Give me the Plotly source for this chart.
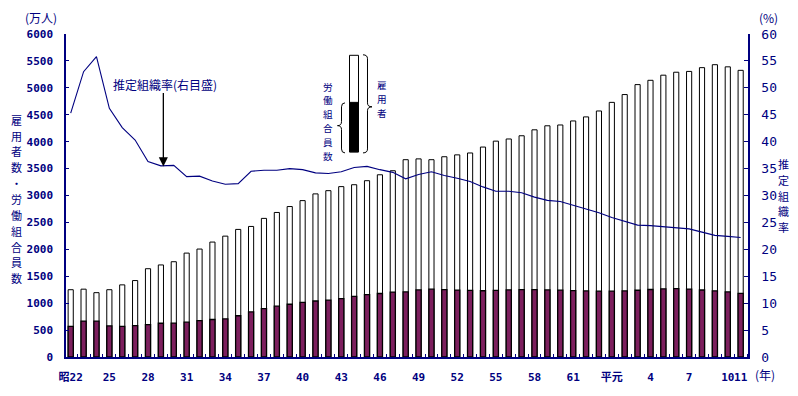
import plotly.graph_objects as go

# ---- data ----
years_index = list(range(53))  # 昭和22年(1947) ... 平成11年(1999)
employees = [1250, 1260, 1195, 1250, 1340, 1420, 1640, 1710, 1770, 1930,
             2005, 2135, 2245, 2370, 2425, 2575, 2685, 2795, 2905, 3030,
             3090, 3165, 3200, 3275, 3385, 3460, 3665, 3680, 3665, 3720,
             3755, 3790, 3900, 4010, 4050, 4110, 4220, 4295, 4310, 4385,
             4460, 4570, 4730, 4875, 5060, 5140, 5235, 5290, 5305, 5375,
             5430, 5390, 5325]
union_members = [569, 668, 666, 577, 569, 584, 603, 627, 629, 646,
                 676, 697, 708, 766, 837, 897, 944, 980, 1015, 1040,
                 1057, 1086, 1125, 1160, 1180, 1206, 1210, 1246, 1259, 1251,
                 1244, 1238, 1231, 1237, 1247, 1253, 1252, 1246, 1242, 1234,
                 1227, 1223, 1223, 1227, 1240, 1254, 1266, 1270, 1261, 1245,
                 1229, 1209, 1183]
density = [45.3, 53.0, 55.8, 46.2, 42.6, 40.3, 36.3, 35.5, 35.6, 33.5,
           33.6, 32.7, 32.1, 32.2, 34.5, 34.7, 34.7, 35.0, 34.8, 34.2,
           34.1, 34.4, 35.2, 35.4, 34.8, 34.3, 33.1, 33.9, 34.4, 33.7,
           33.2, 32.6, 31.6, 30.8, 30.8, 30.5, 29.7, 29.1, 28.9, 28.2,
           27.6, 26.8, 25.9, 25.2, 24.5, 24.4, 24.2, 24.1, 23.8, 23.2,
           22.6, 22.4, 22.2]
tick_positions = [0, 3, 6, 9, 12, 15, 18, 21, 24, 27, 30, 33, 36, 39, 42, 45, 48, 51, 52]
tick_labels = ["昭22", "25", "28", "31", "34", "37", "40", "43", "46", "49",
               "52", "55", "58", "61", "平元", "4", "7", "10", "11"]

NAVY = "#000080"
PURPLE = "#7d1f5e"
JP = "Noto Sans CJK JP"
MONO = "DejaVu Sans Mono, Noto Sans CJK JP"

W, H = 798, 396
L, R, T, B = 66, 50, 34, 36
PW, PH = W - L - R, H - T - B


def px(x):
    return (x - L) / PW


def py(y):
    return (H - B - y) / PH


fig = go.Figure()
fig.add_trace(go.Bar(x=years_index, y=employees, width=0.4,
                     marker=dict(color="white", line=dict(color="black", width=1)),
                     name="雇用者数"))
fig.add_trace(go.Bar(x=years_index, y=union_members, width=0.4,
                     marker=dict(color=PURPLE, line=dict(color="black", width=1.3)),
                     name="労働組合員数"))
fig.add_trace(go.Scatter(x=years_index, y=density, yaxis="y2", mode="lines",
                         line=dict(color=NAVY, width=1.1), name="推定組織率"))

annotations = []


def vtext(chars, xc, yc, spacing, size, color=NAVY):
    n = len(chars)
    for i, ch in enumerate(chars):
        yy = yc + (i - (n - 1) / 2) * spacing
        annotations.append(dict(text=ch, x=px(xc), y=py(yy), xref="paper", yref="paper",
                                showarrow=False, xanchor="center", yanchor="middle",
                                font=dict(family=JP, size=size, color=color)))


def htext(t, xc, yc, size, color=NAVY, family=JP):
    annotations.append(dict(text=t, x=px(xc), y=py(yc), xref="paper", yref="paper",
                            showarrow=False, xanchor="center", yanchor="middle",
                            font=dict(family=family, size=size, color=color)))


vtext("雇用者数・労働組合員数", 16.5, 200.5, 16, 11)
vtext("推定組織率", 783, 197, 16, 11)
vtext("雇用者", 381.5, 99.5, 14, 9.6)
vtext("労働組合員数", 328.3, 122, 14, 9.6)
htext("(万人)", 41, 17.5, 12)
htext("(%)", 768, 17, 12)
htext("(年)", 765, 378, 12)
htext("推定組織率(右目盛)", 165, 85, 12)

# arrow pointing to the density line
annotations.append(dict(x=7.19, y=35.4, xref="x", yref="y2", text="", showarrow=True,
                        ax=0, ay=-75, arrowhead=2, arrowsize=1.4, arrowwidth=1.3,
                        arrowcolor="black"))

shapes = []
# legend bar
shapes.append(dict(type="rect", xref="paper", yref="paper",
                   x0=px(349.5), x1=px(358.5), y0=py(153), y1=py(55.5),
                   fillcolor="white", line=dict(color="black", width=1)))
shapes.append(dict(type="rect", xref="paper", yref="paper",
                   x0=px(349.5), x1=px(358.5), y0=py(153), y1=py(103),
                   fillcolor="black", line=dict(color="black", width=1)))


def brace(x0, x1, x2, ytop, ymid, ybot, r=4):
    pts = [
        ("M", [(x0, ytop)]),
        ("Q", [(x1, ytop), (x1, ytop + r)]),
        ("L", [(x1, ymid - r)]),
        ("Q", [(x1, ymid), (x2, ymid)]),
        ("Q", [(x1, ymid), (x1, ymid + r)]),
        ("L", [(x1, ybot - r)]),
        ("Q", [(x1, ybot), (x0, ybot)]),
    ]
    s = ""
    for cmd, ps in pts:
        s += cmd + " " + " ".join(f"{px(a):.5f},{py(b):.5f}" for a, b in ps) + " "
    return dict(type="path", xref="paper", yref="paper", path=s.strip(),
                line=dict(color="black", width=1))


shapes.append(brace(363, 367.5, 372, 55, 107.5, 154))
shapes.append(brace(345, 341.5, 337.5, 103.5, 126.5, 154))

fig.update_layout(
    width=W, height=H,
    margin=dict(l=L, r=R, t=T, b=B),
    paper_bgcolor="white", plot_bgcolor="white",
    barmode="overlay", showlegend=False,
    xaxis=dict(range=[-0.365, 52.57], tickmode="array", tickvals=tick_positions,
               ticktext=tick_labels, ticks="", tickangle=0, showgrid=False,
               zeroline=False, showline=True, linecolor=NAVY, linewidth=1.5,
               ticklabelstandoff=9,
               tickfont=dict(family=MONO, size=11, color=NAVY, weight="bold"),
               minor=dict(ticks="inside", ticklen=3, tickcolor=NAVY, tick0=0.5,
                          dtick=1, showgrid=False)),
    yaxis=dict(range=[0, 6000], dtick=500, ticks="inside", ticklen=3, tickcolor=NAVY,
               showgrid=False, zeroline=False, showline=True, linecolor=NAVY,
               linewidth=1.5, ticklabelstandoff=9,
               tickfont=dict(family=MONO, size=11, color=NAVY, weight="bold")),
    yaxis2=dict(range=[0, 60], dtick=5, overlaying="y", side="right", ticks="inside",
                ticklen=4, tickcolor=NAVY, showgrid=False, zeroline=False,
                showline=True, linecolor=NAVY, linewidth=1.5, ticklabelstandoff=9,
                tickfont=dict(family=MONO, size=13, color=NAVY)),
    annotations=annotations, shapes=shapes,
)

fig.write_html("out.html", config={"displayModeBar": False},
               post_script="document.body.style.margin='0';document.body.style.padding='0';")
